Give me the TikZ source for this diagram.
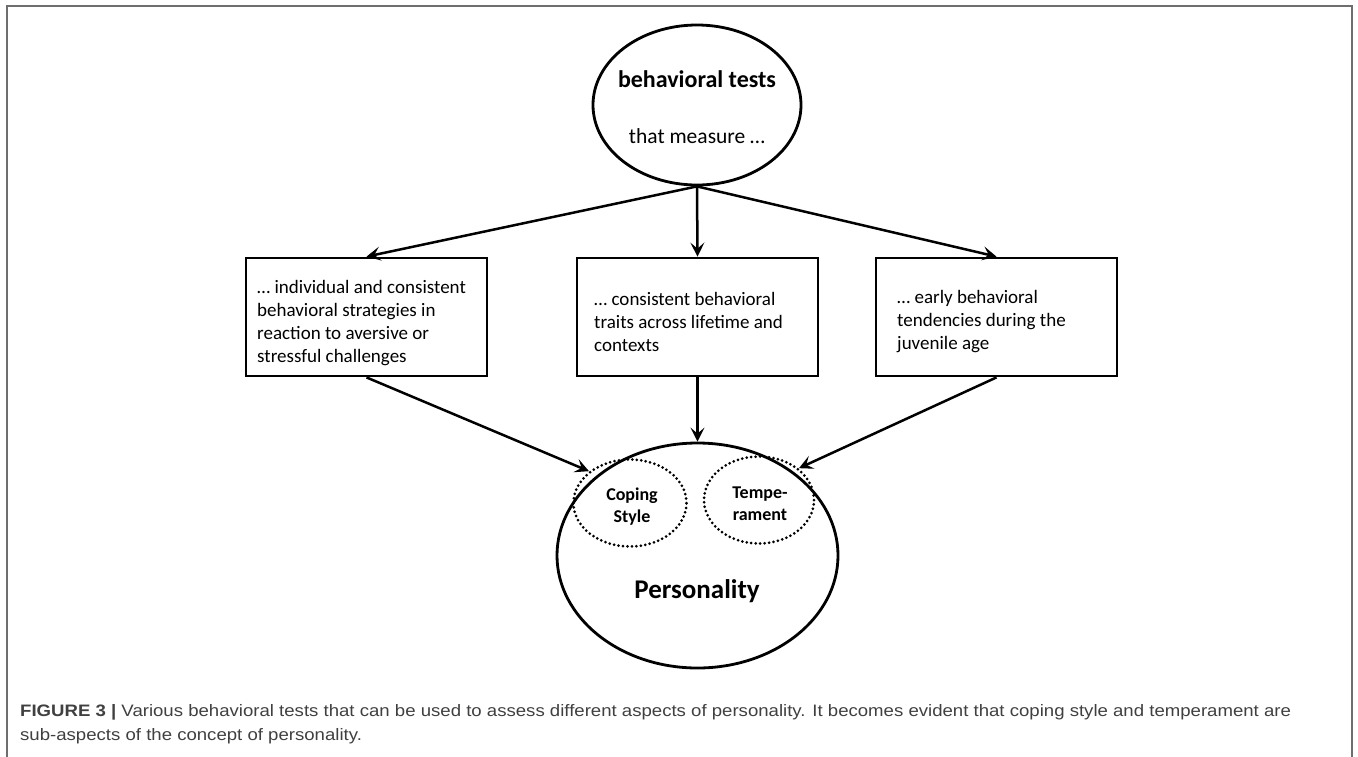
\documentclass[tikz,border=0pt]{standalone}
\usepackage{fontspec}
\setmainfont{Carlito}
\newfontfamily\capfont[FakeStretch=1.12]{Liberation Sans}
\usetikzlibrary{shapes.geometric,arrows.meta}
\definecolor{framegray}{HTML}{6E6E6E}
\definecolor{capgray}{HTML}{404040}
\tikzset{
  shapeline/.style={draw=black, line width=2.8pt},
  boxnode/.style={shapeline, rectangle, minimum width=241pt, minimum height=118pt, inner sep=0pt},
  bodytext/.style={anchor=west, align=left, inner sep=0pt, font=\fontsize{19}{23}\selectfont},
  subell/.style={ellipse, draw=black, line width=3pt, line cap=round, dash pattern=on 0pt off 4.5pt, inner sep=0pt},
  subtext/.style={align=center, inner sep=0pt, font=\fontsize{18}{22}\selectfont\bfseries},
  conn/.style={draw=black, line width=2.5pt, -{Stealth[length=14pt,width=14pt,inset=6pt]}},
  captext/.style={anchor=base west, inner sep=0pt, text=capgray, font=\capfont\fontsize{16.6}{20}\selectfont}
}
\begin{document}
\begin{tikzpicture}[x=1pt,y=-1pt]
\useasboundingbox (0,0) rectangle (1358,756);
% frame
\draw[framegray, line width=1.6pt] (7,757) -- (7,6) -- (1352,6) -- (1352,757);

% top ellipse
\node[ellipse, shapeline, minimum width=208pt, minimum height=160pt, inner sep=0pt] (top) at (697,105) {};
\node[inner sep=0pt, font=\fontsize{24}{28}\selectfont\bfseries] (toptitle) at (697,79) {behavioral tests};
\node[inner sep=0pt, font=\fontsize{21.5}{26}\selectfont] (topsub) at (697,136) {that measure …};

% boxes
\node[boxnode] (box1) at (366.5,317) {};
\node[boxnode] (box2) at (697.5,317) {};
\node[boxnode] (box3) at (996.5,317) {};
\node[bodytext] (t1) at (257,323) {… individual and consistent\\behavioral strategies in\\reaction to aversive or\\stressful challenges};
\node[bodytext] (t2) at (594,322) {… consistent behavioral\\traits across lifetime and\\contexts};
\node[bodytext] (t3) at (897,322) {… early behavioral\\tendencies during the\\juvenile age};

% personality
\node[ellipse, shapeline, minimum width=281pt, minimum height=225pt, inner sep=0pt] (pers) at (697.5,555.5) {};
\node[subell, minimum width=113pt, minimum height=87pt] (coping) at (630,503) {};
\node[subell, minimum width=110pt, minimum height=87pt] (temper) at (759,500) {};
\node[subtext] (copingtext) at (632,507) {Coping\\Style};
\node[subtext] (tempertext) at (760,504) {Tempe-\\rament};
\node[inner sep=0pt, font=\fontsize{27}{32}\selectfont\bfseries] (perstext) at (697,591) {Personality};

% connectors
\draw[conn] (top.south) -- (box1.north);
\draw[conn] (top.south) -- (box2.north);
\draw[conn] (top.south) -- (box3.north);
\draw[conn] (box1.south) -- (coping.north west);
\draw[conn] (box2.south) -- (pers.north);
\draw[conn] (box3.south) -- (temper.north east);

% caption
\node[captext] (cap1) at (20,716) {\bfseries FIGURE 3 |\mdseries\ Various behavioral tests that can be used to assess different aspects of personality. It becomes evident that coping style and temperament are};
\node[captext] (cap2) at (20,740) {sub-aspects of the concept of personality.};
\end{tikzpicture}
\end{document}
